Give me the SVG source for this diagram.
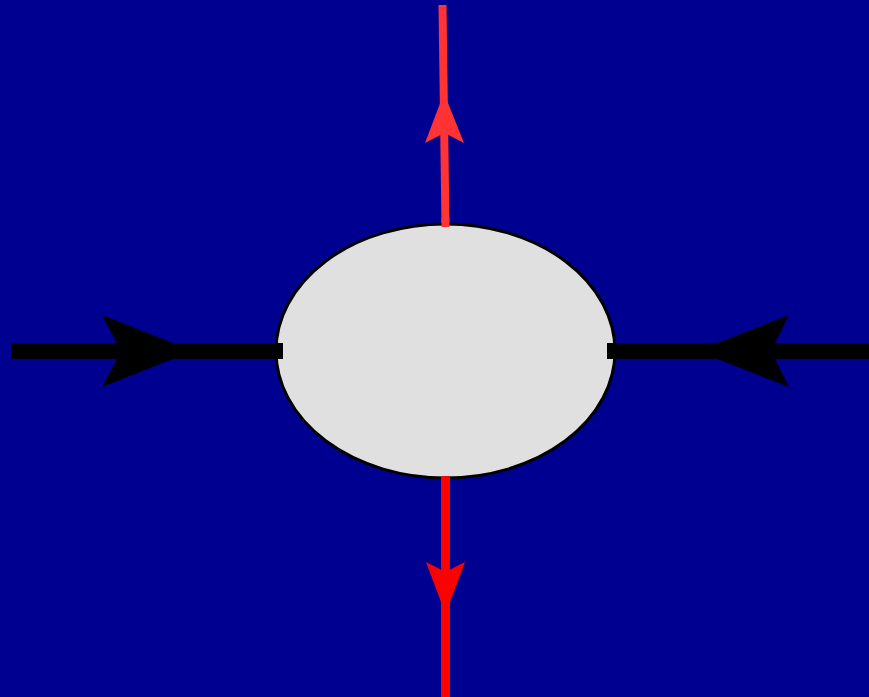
<svg xmlns="http://www.w3.org/2000/svg" width="869" height="697" viewBox="0 0 869 697">
<style>
.bg{fill:#000090}
.node{fill:#e0e0e0;stroke:#000;stroke-width:3}
.blk{stroke:#000;stroke-width:16;fill:none}
.blkh{fill:#000}
.r1{stroke:#ff3333;stroke-width:8;fill:none}
.r1h{fill:#ff3333}
.r2{stroke:#ff0000;stroke-width:9;fill:none}
.r2h{fill:#ff0000}
</style>
<rect class="bg" x="0" y="0" width="869" height="697"/>
<g id="connectors">
<g id="left-in">
<line class="blk" x1="11" y1="351" x2="283" y2="351"/>
<polygon class="blkh" points="193,351 102,315 121,351 102,387"/>
</g>
<g id="right-in">
<line class="blk" x1="607" y1="351" x2="869" y2="351"/>
<polygon class="blkh" points="697,351 789,315 771,351 789,387"/>
</g>
<g id="top-out">
<line class="r1" x1="442.5" y1="5" x2="445.5" y2="227"/>
<polygon class="r1h" points="444,93 464,143 444.5,133 425,143"/>
</g>
<g id="bottom-out">
<line class="r2" x1="445.5" y1="476" x2="445.5" y2="697"/>
<polygon class="r2h" points="445.5,614 426,562 445.5,572 465,562"/>
</g>
</g>
<g id="node-center">
<ellipse class="node" cx="445.5" cy="351" rx="169.5" ry="127"/>
</g>
<g id="connector-ends">
<line class="blk" x1="274" y1="351" x2="283" y2="351"/>
<line class="blk" x1="607" y1="351" x2="617" y2="351"/>
<line class="r1" x1="445.4" y1="218" x2="445.5" y2="227"/>
<line class="r2" x1="445.5" y1="476" x2="445.5" y2="485"/>
</g>
</svg>
